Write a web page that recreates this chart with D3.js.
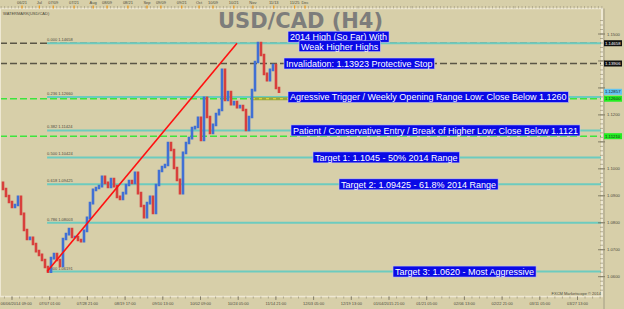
<!DOCTYPE html>
<html>
<head>
<meta charset="utf-8">
<script src="https://cdn.jsdelivr.net/npm/d3@7"></script>
<style>
  html, body { margin: 0; padding: 0; background: #d7cfa9; }
  svg { display: block; font-family: "Liberation Sans", Arial, sans-serif; }
</style>
</head>
<body>
<div id="chart"></div>
<script>
// price samples, left to right (about every 10 bars)
const sampleCloses = [
  1.0948, 1.0925, 1.0899, 1.0877, 1.0859, 1.0866, 1.0896, 1.0833, 1.0773, 1.0740,
  1.0744, 1.0721, 1.0695, 1.0681, 1.0662, 1.0636, 1.0619, 1.0669, 1.0684, 1.0662,
  1.0640, 1.0740, 1.0758, 1.0777, 1.0747, 1.0747, 1.0736, 1.0732, 1.0770, 1.0818,
  1.0873, 1.0922, 1.0929, 1.0936, 1.0970, 1.0948, 1.0933, 1.0962, 1.0936, 1.0896,
  1.0888, 1.0910, 1.0940, 1.0955, 1.0948, 1.0985, 1.0910, 1.0862, 1.0821, 1.0873,
  1.0896, 1.0836, 1.0940, 1.0992, 1.1007, 1.1014, 1.1096, 1.1070, 1.1003, 1.0959,
  1.0910, 1.1059, 1.1096, 1.1114, 1.1151, 1.1155, 1.1189, 1.1107, 1.1263, 1.1192,
  1.1133, 1.1163, 1.1203, 1.1218, 1.1367, 1.1255, 1.1285, 1.1240, 1.1248, 1.1229,
  1.1233, 1.1218, 1.1144, 1.1192, 1.1292, 1.1396, 1.1466, 1.1422, 1.1352, 1.1329,
  1.1367, 1.1385, 1.1300, 1.1286
];

const fibRatios = ["0.000", "0.236", "0.382", "0.500", "0.618", "0.786", "1.000"];
const fibPrices = [1.14658, 1.12660, 1.11424, 1.10424, 1.09425, 1.08003, 1.06191];
const fibStartSample = 15.7;

// red trend line: 2014 low -> 2014 high
const trendSamples = [15.7, 79];
const trendPrices = [1.06191, 1.14658];

const darkLevels = [1.14658, 1.13906];
const greenLevels = [1.1260, 1.1121];
const openingRangeSamples = [84, 96];
const openingRangePrice = 1.1260;

const tagPrices = [1.14658, 1.13906, 1.12857, 1.12600, 1.11210];
const tagKinds = ["dark", "dark", "last", "green", "green"];

const topTickDates = ["2014-06-21", "2014-07-01", "2014-07-09", "2014-07-21", "2014-08-01",
  "2014-08-09", "2014-08-21", "2014-09-01", "2014-09-09", "2014-09-21", "2014-10-01",
  "2014-10-09", "2014-10-21", "2014-11-01", "2014-11-13", "2014-11-25", "2014-12-01"];

const bottomTickLabels = ["06/06/2014 09:00", "07/07 01:00", "07/28 21:00", "08/19 17:00",
  "09/10 13:00", "10/02 09:00", "10/24 05:00", "11/14 21:00", "12/03 05:00", "12/19 13:00",
  "01/04/2015 21:00", "01/21 05:00", "02/06 13:00", "02/22 21:00", "03/11 05:00", "03/27 13:00"];

const noteTexts = [
  "2014 High (So Far) With",
  "Weak Higher Highs",
  "Invalidation: 1.13923 Protective Stop",
  "Agressive Trigger / Weekly Opening Range Low: Close Below 1.1260",
  "Patient / Conservative Entry / Break of Higher Low: Close Below 1.1121",
  "Target 1: 1.1045 - 50% 2014 Range",
  "Target 2: 1.09425 - 61.8% 2014 Range",
  "Target 3: 1.0620 - Most Aggressive"
];
const notePrices = [1.14658, 1.14658, 1.13906, 1.12660, 1.11424, 1.10424, 1.09425, 1.06191];

// layout
const W = 624, H = 309;
const plotRight = 603, plotTop = 8.5, plotBottom = 296.5;
const noteLeft = [288, 299, 284, 288, 291, 313, 339, 393];
const noteShift = [-6.5, 3, 0, 0, 0, 0, 0, 0];

const svg = d3.select("#chart").append("svg")
  .attr("width", W).attr("height", H);

svg.append("rect").attr("width", W).attr("height", H).attr("fill", "#d7cfa9");

const y = d3.scaleLinear().domain([1.06, 1.15]).range([276.7, 34]);
const x = d3.scaleLinear().domain([0, sampleCloses.length - 1]).range([0, 279]);
const xTop = d3.scaleTime()
  .domain([new Date(2014, 5, 21), new Date(2014, 11, 1)])
  .range([22, 305]);
const xBottom = d3.scalePoint().domain(bottomTickLabels).range([12, 577.5]);

const plot = svg.append("g");
svg.append("clipPath").attr("id", "plotclip")
  .append("rect").attr("x", 0).attr("y", plotTop).attr("width", plotRight).attr("height", plotBottom - plotTop);
plot.attr("clip-path", "url(#plotclip)");

// title + watermark
svg.append("text")
  .attr("x", 218).attr("y", 28)
  .attr("font-family", "'DejaVu Sans', Verdana, sans-serif")
  .attr("font-weight", "bold").attr("font-size", 21)
  .attr("fill", "#7d7d7b")
  .text("USD/CAD (H4)");

svg.append("text")
  .attr("x", 3).attr("y", 15)
  .attr("font-size", 4).attr("fill", "#4a4636")
  .text("WATERMARK(USD/CAD)");

// dark dashed levels
plot.selectAll(".dark-level")
  .data(darkLevels)
  .enter().append("line")
  .attr("class", "dark-level")
  .attr("x1", 0).attr("x2", plotRight)
  .attr("y1", d => y(d)).attr("y2", d => y(d))
  .attr("stroke", "#5a5646").attr("stroke-width", 1.5)
  .attr("stroke-dasharray", "7,3");

// green dashed levels
plot.selectAll(".green-level")
  .data(greenLevels)
  .enter().append("line")
  .attr("class", "green-level")
  .attr("x1", 0).attr("x2", plotRight)
  .attr("y1", d => y(d)).attr("y2", d => y(d))
  .attr("stroke", "#3ce63c").attr("stroke-width", 1.5)
  .attr("stroke-dasharray", "7,3");

// fibonacci lines
plot.selectAll(".fib")
  .data(fibPrices)
  .enter().append("line")
  .attr("class", "fib")
  .attr("x1", x(fibStartSample)).attr("x2", plotRight)
  .attr("y1", d => y(d)).attr("y2", d => y(d))
  .attr("stroke", "#6ccbbf").attr("stroke-width", 2);

plot.selectAll(".fib-label")
  .data(fibPrices)
  .enter().append("text")
  .attr("class", "fib-label")
  .attr("x", x(fibStartSample)).attr("y", d => y(d) - 2)
  .attr("font-size", 4).attr("fill", "#4d4a3c")
  .text((d, i) => `${fibRatios[i]} ${d3.format(".5f")(d)}`);

// weekly opening range low marker
plot.append("line")
  .attr("x1", x(openingRangeSamples[0])).attr("x2", x(openingRangeSamples[1]))
  .attr("y1", y(openingRangePrice)).attr("y2", y(openingRangePrice))
  .attr("stroke", "#9aa83a").attr("stroke-width", 3);
plot.append("line")
  .attr("x1", x(openingRangeSamples[0])).attr("x2", x(openingRangeSamples[1]))
  .attr("y1", y(openingRangePrice)).attr("y2", y(openingRangePrice))
  .attr("stroke", "#f2e23a").attr("stroke-width", 1)
  .attr("stroke-dasharray", "3,4");

// price bars (prev close -> close)
const bars = sampleCloses.slice(1).map((c, i) => ({ i: i + 1, open: sampleCloses[i], close: c }));
plot.selectAll(".bar")
  .data(bars)
  .enter().append("line")
  .attr("class", "bar")
  .attr("x1", d => x(d.i)).attr("x2", d => x(d.i))
  .attr("y1", d => y(d.open)).attr("y2", d => y(d.close))
  .attr("stroke", d => d.close >= d.open ? "#4170d4" : "#d8403c")
  .attr("stroke-width", 2.6)
  .attr("stroke-linecap", "square");

// trend line
plot.append("line")
  .attr("x1", x(trendSamples[0])).attr("y1", y(trendPrices[0]))
  .attr("x2", x(trendSamples[1])).attr("y2", y(trendPrices[1]))
  .attr("stroke", "#ff1010").attr("stroke-width", 1.6);

// annotation boxes
const notes = svg.append("g");
noteTexts.forEach((t, i) => {
  const cy = y(notePrices[i]) + noteShift[i];
  const g = notes.append("g");
  const txt = g.append("text")
    .attr("x", noteLeft[i] + 2).attr("y", cy + 3.3)
    .attr("font-size", 9).attr("fill", "#ffffff")
    .text(t);
  const w = txt.node().getComputedTextLength();
  g.insert("rect", "text")
    .attr("x", noteLeft[i]).attr("y", cy - 5.5)
    .attr("width", w + 4).attr("height", 11)
    .attr("fill", "#0a0ae6")
    .attr("stroke", "#c8c8f0").attr("stroke-width", 0.6);
});

// frame
svg.append("line").attr("x1", 0).attr("x2", plotRight).attr("y1", plotTop).attr("y2", plotTop)
  .attr("stroke", "#eee8d3").attr("stroke-width", 1.5);
svg.append("line").attr("x1", 0).attr("x2", plotRight).attr("y1", plotBottom).attr("y2", plotBottom)
  .attr("stroke", "#eee8d3").attr("stroke-width", 1.5);
svg.append("line").attr("x1", plotRight - 1).attr("x2", plotRight - 1).attr("y1", plotTop).attr("y2", plotBottom)
  .attr("stroke", "#eee8d3").attr("stroke-width", 2);
svg.append("line").attr("x1", plotRight + 1).attr("x2", plotRight + 1).attr("y1", plotTop).attr("y2", H)
  .attr("stroke", "#a29c84").attr("stroke-width", 1);
svg.append("line").attr("x1", 0.5).attr("x2", 0.5).attr("y1", plotTop).attr("y2", plotBottom)
  .attr("stroke", "#eee8d3").attr("stroke-width", 1);

// right price axis
const minorPrices = d3.range(0, 61).map(k => 1.055 + k * 0.01 / 6).filter(p => y(p) > plotTop + 2 && y(p) < plotBottom - 2);
svg.selectAll(".ytick-minor")
  .data(minorPrices)
  .enter().append("line")
  .attr("x1", plotRight - 3).attr("x2", plotRight)
  .attr("y1", d => y(d)).attr("y2", d => y(d))
  .attr("stroke", "#8d876f").attr("stroke-width", 0.6);

const majorPrices = y.ticks(10);
svg.selectAll(".ytick")
  .data(majorPrices)
  .enter().append("line")
  .attr("x1", plotRight - 5).attr("x2", plotRight + 2)
  .attr("y1", d => y(d)).attr("y2", d => y(d))
  .attr("stroke", "#6e6956").attr("stroke-width", 0.8);

// labels hidden where a price tag sits on top of them
const labelPrices = majorPrices.filter(p => tagPrices.every(t => Math.abs(y(p) - y(t)) > 6));
svg.selectAll(".ylabel")
  .data(labelPrices)
  .enter().append("text")
  .attr("x", 607).attr("y", d => y(d) + 1.5)
  .attr("font-size", 4.2).attr("fill", "#4d4a3c")
  .text(d => d3.format(".4f")(d));

// right price tags
const tagFill = { dark: "#111111", last: "#62c4f2", green: "#22ee22" };
const tagText = { dark: "#ffffff", last: "#1b1b1b", green: "#1b1b1b" };
tagPrices.forEach((p, i) => {
  const cy = y(p);
  svg.append("rect")
    .attr("x", 604).attr("y", cy - 3).attr("width", 18).attr("height", 6)
    .attr("fill", tagFill[tagKinds[i]]);
  svg.append("text")
    .attr("x", 605).attr("y", cy + 1.6)
    .attr("font-size", 4.3).attr("fill", tagText[tagKinds[i]])
    .text(d3.format(".5f")(p));
});

// top date strip
const topMinor = d3.timeDay.every(2).range(xTop.invert(0), xTop.invert(plotRight));
svg.selectAll(".top-minor")
  .data(topMinor)
  .enter().append("line")
  .attr("x1", d => xTop(d)).attr("x2", d => xTop(d))
  .attr("y1", 6).attr("y2", 8.5)
  .attr("stroke", "#9a947c").attr("stroke-width", 0.6);

const topDates = topTickDates.map(s => new Date(s + "T00:00"));
svg.selectAll(".top-major")
  .data(topDates)
  .enter().append("line")
  .attr("x1", d => xTop(d)).attr("x2", d => xTop(d))
  .attr("y1", 5.5).attr("y2", 8.5)
  .attr("stroke", "#f09a1c").attr("stroke-width", 1.2);
svg.selectAll(".top-label")
  .data(topDates)
  .enter().append("text")
  .attr("x", d => xTop(d)).attr("y", 4.2)
  .attr("text-anchor", "middle")
  .attr("font-size", 4).attr("fill", "#4d4a3c")
  .text(d => d.getDate() === 1 ? d3.timeFormat("%b")(d) : d3.timeFormat("%m/%d")(d));

// bottom time axis
const step = xBottom.step();
const bottomMinor = d3.range(0, bottomTickLabels.length * 5 + 2).map(k => xBottom(bottomTickLabels[0]) + k * step / 5 - step / 5)
  .filter(v => v >= 0 && v <= plotRight);
svg.selectAll(".bottom-minor")
  .data(bottomMinor)
  .enter().append("line")
  .attr("x1", d => d).attr("x2", d => d)
  .attr("y1", plotBottom).attr("y2", plotBottom + 2)
  .attr("stroke", "#8d876f").attr("stroke-width", 0.6);
svg.selectAll(".bottom-major")
  .data(bottomTickLabels)
  .enter().append("line")
  .attr("x1", d => xBottom(d)).attr("x2", d => xBottom(d))
  .attr("y1", plotBottom).attr("y2", plotBottom + 3.5)
  .attr("stroke", "#6e6956").attr("stroke-width", 0.7);
svg.selectAll(".bottom-label")
  .data(bottomTickLabels)
  .enter().append("text")
  .attr("y", 305)
  .attr("font-size", 4).attr("fill", "#4d4a3c")
  .attr("text-anchor", "middle")
  .text(d => d)
  .attr("x", function(d) {
    const half = this.getComputedTextLength() / 2;
    return Math.max(xBottom(d), half + 0.5);
  });

svg.append("text")
  .attr("x", 601).attr("y", 295)
  .attr("text-anchor", "end")
  .attr("font-size", 4).attr("fill", "#4d4a3c")
  .text("FXCM Marketscope © 2014");
</script>
</body>
</html>
